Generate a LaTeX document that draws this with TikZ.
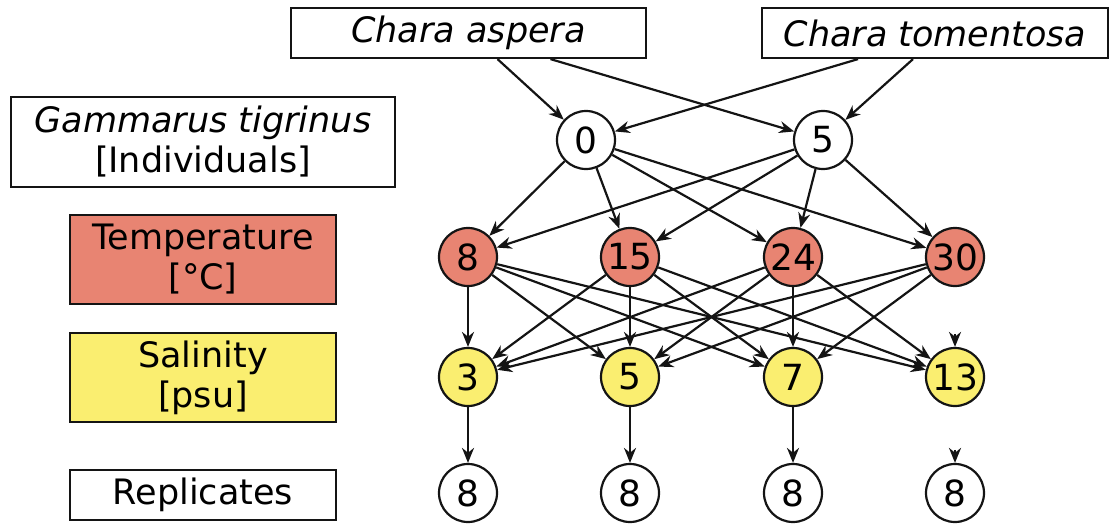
\documentclass[tikz,border=0pt]{standalone}
\usepackage{fontspec}
\setmainfont{DejaVu Sans}
\usetikzlibrary{arrows.meta}
\definecolor{tempred}{RGB}{232,132,114}
\definecolor{salyellow}{RGB}{250,238,112}
\definecolor{ink}{RGB}{20,20,20}

\begin{document}
\begin{tikzpicture}[x=1pt,y=-1pt,
  every node/.style={font=\fontsize{35}{40}\selectfont, text=black},
  labelbox/.style={draw=ink, line width=2.2pt, inner sep=0pt, align=center},
  level/.style={circle, draw=ink, line width=2.2pt, minimum size=58pt, inner sep=0pt,
    font=\fontsize{36}{40}\selectfont},
  arr/.style={-{Stealth[length=15pt,width=12pt]}, line width=2.2pt, draw=ink}
]
\useasboundingbox (0,0) rectangle (1111,527);

% factor labels on the left and species boxes on top
\node[labelbox, minimum width=355pt, minimum height=50pt] (ca) at (468.5,33) {\itshape Chara aspera};
\node[labelbox, minimum width=346pt, minimum height=50pt] (ct) at (935,33) {\itshape Chara tomentosa};
\node[labelbox, minimum width=384pt, minimum height=90pt] (lg) at (203,142) {\itshape Gammarus tigrinus\\{}[Individuals]};
\node[labelbox, fill=tempred, minimum width=266pt, minimum height=89pt] (lt) at (203,259.5) {Temperature\\{}[°C]};
\node[labelbox, fill=salyellow, minimum width=266pt, minimum height=89pt] (ls) at (203,377.5) {Salinity\\{}[psu]};
\node[labelbox, minimum width=266pt, minimum height=50pt] (lr) at (203,495) {Replicates};

% Gammarus density levels
\node[level, fill=white] (g0) at (586,140) {0};
\node[level, fill=white] (g5) at (823,140) {5};

% temperature levels
\node[level, fill=tempred] (t1) at (468,257) {8};
\node[level, fill=tempred] (t2) at (630,257) {15};
\node[level, fill=tempred] (t3) at (793,257) {24};
\node[level, fill=tempred] (t4) at (955,257) {30};

% salinity levels
\node[level, fill=salyellow] (s1) at (468,377) {3};
\node[level, fill=salyellow] (s2) at (630,377) {5};
\node[level, fill=salyellow] (s3) at (793,377) {7};
\node[level, fill=salyellow] (s4) at (955,377) {13};

% replicates
\node[level, fill=white] (r1) at (468,493) {8};
\node[level, fill=white] (r2) at (630,493) {8};
\node[level, fill=white] (r3) at (793,493) {8};
\node[level, fill=white] (r4) at (955,493) {8};

% species -> Gammarus
\draw[arr] ([xshift=29pt]ca.south) -- (g0);
\draw[arr] ([xshift=82pt]ca.south) -- (g5);
\draw[arr] ([xshift=-77pt]ct.south) -- (g0);
\draw[arr] ([xshift=-22pt]ct.south) -- (g5);

% Gammarus -> temperature
\foreach \g in {g0,g5}
  \foreach \t in {t1,t2,t3,t4}
    \draw[arr] (\g) -- (\t);

% temperature -> salinity
\foreach \t in {t1,t2,t3}
  \foreach \s in {s1,s2,s3,s4}
    \draw[arr] (\t) -- (\s);
\foreach \s in {s1,s2,s3}
  \draw[arr] (t4) -- (\s);
\coordinate (t4s4) at ([yshift=13pt]s4.north);
\draw[arr] (t4s4) -- (s4);

% salinity -> replicates
\draw[arr] (s1) -- (r1);
\draw[arr] (s2) -- (r2);
\draw[arr] (s3) -- (r3);
\coordinate (s4r4) at ([yshift=13pt]r4.north);
\draw[arr] (s4r4) -- (r4);
\end{tikzpicture}
\end{document}
